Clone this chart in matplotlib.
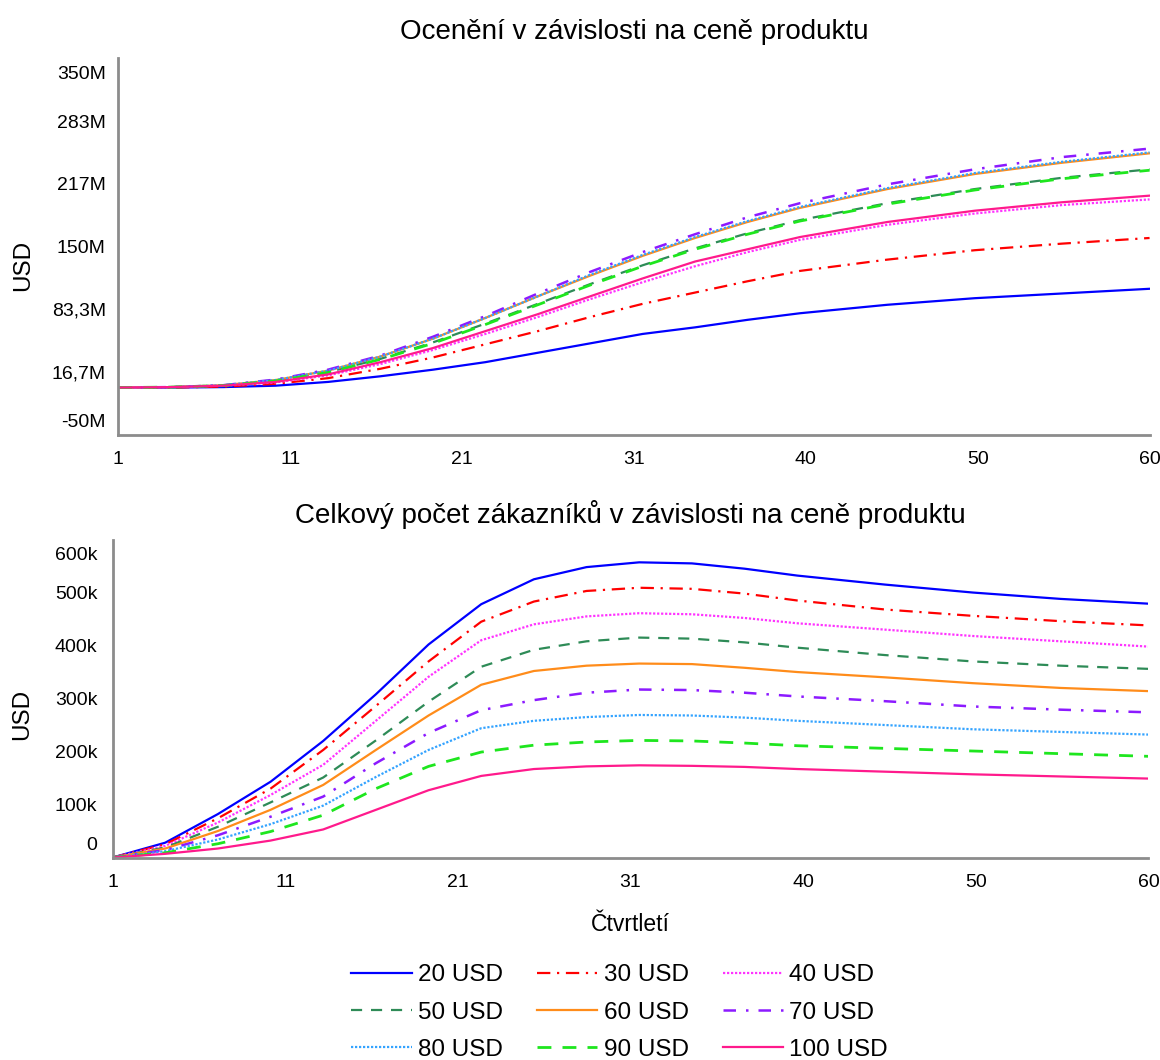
import numpy as np
import matplotlib.pyplot as plt
from matplotlib.transforms import ScaledTranslation

plt.rcParams['font.family'] = ['Liberation Sans', 'DejaVu Sans']

# Čtvrtletí, ve kterých jsou hodnoty odečteny
quarters = [1, 4, 7, 10, 13, 16, 19, 22, 25, 28, 31, 34, 37, 40, 45, 50, 55, 60]

prices = ['20 USD', '30 USD', '40 USD', '50 USD', '60 USD',
          '70 USD', '80 USD', '90 USD', '100 USD']

# Ocenění (mil. USD)
val_20 = [0, 0, 0.5, 2, 6, 12, 19, 27, 37, 47, 57, 64, 72, 79, 88, 95, 100, 105]
val_30 = [0, 0, 1, 4, 10, 20, 32, 46, 60, 75, 89, 101, 113, 124, 136, 146, 153, 159]
val_40 = [0, 0.5, 2, 5.5, 13, 25, 40, 57, 75, 94, 112, 129, 144, 157, 173, 185, 194, 200]
val_50 = [0, 0.5, 2, 7, 16.5, 30.5, 48, 68, 89, 110, 130, 148, 164, 178, 196, 211, 223, 232]
val_60 = [0, 0.5, 2.5, 8, 18, 33, 52, 74, 97, 119, 140, 159, 176, 191, 211, 227, 239, 249]
val_70 = [0, 0.5, 2.5, 8.5, 19, 34, 54, 76, 100, 123, 144, 163, 181, 196, 216, 232, 245, 254]
val_80 = [0, 0.5, 2.5, 8, 18, 33, 52, 74, 97, 120, 141, 160, 177, 192, 212, 228, 240, 250]
val_90 = [0, 0.5, 2, 7, 16, 30, 47, 67, 88, 109, 129, 147, 163, 177, 195, 210, 222, 231]
val_100 = [0, 0.5, 2, 6, 14, 27, 42, 60, 78, 97, 116, 134, 147, 160, 176, 188, 197, 204]

# Celkový počet zákazníků (tis.)
cust_20 = [0, 28, 82, 143, 220, 308, 402, 478, 525, 548, 557, 555, 545, 532, 515, 500, 488, 479]
cust_30 = [0, 25, 74, 130, 203, 286, 370, 445, 483, 503, 509, 507, 498, 485, 468, 456, 446, 438]
cust_40 = [0, 22, 66, 118, 175, 258, 341, 410, 440, 455, 461, 459, 452, 442, 430, 418, 408, 398]
cust_50 = [0, 19, 58, 104, 151, 221, 294, 360, 392, 408, 415, 413, 406, 396, 382, 370, 362, 356]
cust_60 = [0, 17, 50, 90, 137, 203, 268, 326, 352, 362, 366, 365, 358, 350, 340, 329, 320, 314]
cust_70 = [0, 14, 42, 77, 115, 178, 235, 278, 297, 311, 317, 316, 311, 304, 295, 285, 279, 274]
cust_80 = [0, 12, 34, 63, 98, 152, 203, 244, 258, 265, 269, 268, 264, 258, 250, 242, 237, 232]
cust_90 = [0, 9, 26, 49, 80, 130, 172, 199, 212, 218, 221, 220, 216, 211, 206, 201, 196, 191]
cust_100 = [0, 7, 17, 32, 53, 90, 127, 154, 167, 172, 174, 173, 171, 167, 162, 157, 153, 149]

val_ticks = [-50, 16.67, 83.33, 150, 216.67, 283.33, 350]
val_labels = ['-50M', '16,7M', '83,3M', '150M', '217M', '283M', '350M']
cust_ticks = [0, 100, 200, 300, 400, 500, 600]
cust_labels = ['0', '100k', '200k', '300k', '400k', '500k', '600k']
x_labels = ['1', '11', '21', '31', '40', '50', '60']

values = [val_20, val_30, val_40, val_50, val_60, val_70, val_80, val_90, val_100]
customers = [cust_20, cust_30, cust_40, cust_50, cust_60, cust_70, cust_80, cust_90, cust_100]

colors = ['#0000ff', '#ff0000', '#ff33ff', '#2e8b57', '#ff8c1a',
          '#8c1aff', '#33a3ff', '#1ee61e', '#ff1a8c']
styles = ['-', (0, (6, 3, 1, 3)), (0, (1, 0.8)), (0, (5, 4)), '-',
          (0, (5, 4, 1, 4)), (0, (1, 0.8)), (0, (5, 4)), '-']
widths = [1.6, 1.6, 1.6, 1.6, 1.6, 1.8, 1.6, 2.0, 1.6]

fig = plt.figure(figsize=(11.6, 10.6), dpi=100)
ax1 = fig.add_axes([0.102, 0.590, 0.889, 0.355])
ax2 = fig.add_axes([0.097, 0.191, 0.893, 0.300])

for i in range(len(prices)):
    ax1.plot(quarters, values[i], color=colors[i], linestyle=styles[i], linewidth=widths[i])
    ax2.plot(quarters, customers[i], color=colors[i], linestyle=styles[i],
             linewidth=widths[i], label=prices[i])

x_pos = np.linspace(1, 60, 7)


def style_axes(ax, yticks, ylabels, shift, ypad):
    ax.set_xlim(1, 60)
    ax.set_ylim(yticks[0], yticks[-1])
    ax.set_xticks(x_pos)
    ax.set_xticklabels(x_labels)
    ax.set_yticks(yticks)
    ax.set_yticklabels(ylabels)
    for s in ['top', 'right']:
        ax.spines[s].set_visible(False)
    for s in ['left', 'bottom']:
        ax.spines[s].set_color('#8c8c8c')
        ax.spines[s].set_linewidth(2)
    ax.tick_params(axis='both', length=0, labelsize=14)
    ax.tick_params(axis='x', pad=12)
    ax.tick_params(axis='y', pad=ypad)
    labs = ax.get_yticklabels()
    labs[0].set_transform(labs[0].get_transform()
                          + ScaledTranslation(0, shift / 72, fig.dpi_scale_trans))
    labs[-1].set_transform(labs[-1].get_transform()
                           + ScaledTranslation(0, -shift / 72, fig.dpi_scale_trans))


style_axes(ax1, val_ticks, val_labels, 10, 9)
style_axes(ax2, cust_ticks, cust_labels, 10, 11)

ax1.set_title('Ocenění v závislosti na ceně produktu', fontsize=20, pad=14)
ax2.set_title('Celkový počet zákazníků v závislosti na ceně produktu', fontsize=20, pad=12)
ax1.set_ylabel('USD', fontsize=17.5)
ax2.set_ylabel('USD', fontsize=17.5)
ax1.yaxis.set_label_coords(-0.082, 0.45)
ax2.yaxis.set_label_coords(-0.077, 0.45)
ax2.set_xlabel('Čtvrtletí', fontsize=16.5)
ax2.xaxis.set_label_coords(0.5, -0.175)

# legenda: řádky 20/30/40, 50/60/70, 80/90/100
handles, labels = ax2.get_legend_handles_labels()
order = [0, 3, 6, 1, 4, 7, 2, 5, 8]
fig.legend([handles[k] for k in order], [labels[k] for k in order],
           loc='upper center', bbox_to_anchor=(0.534, 0.1085), ncol=3, frameon=False,
           fontsize=17.5, handlelength=2.5, handletextpad=0.25, columnspacing=1.4,
           labelspacing=0.62, borderpad=0.3)

fig.savefig('out.png', dpi=100)
